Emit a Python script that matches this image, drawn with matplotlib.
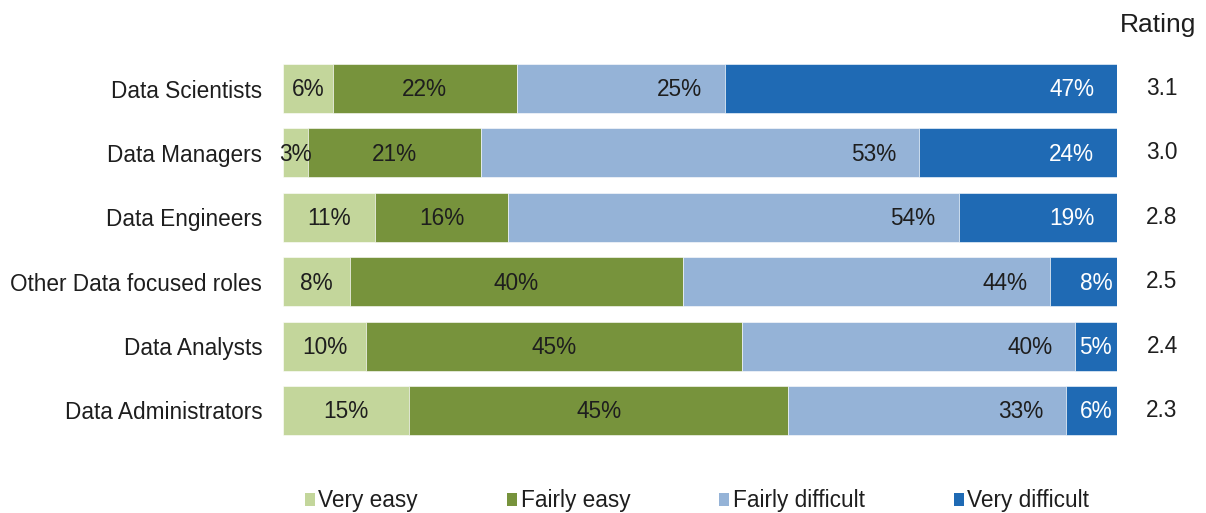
"""
Stacked horizontal bar chart: how easy/difficult it is to hire each data role,
with the average rating shown on the right.
"""
import matplotlib
matplotlib.use('Agg')
import matplotlib.pyplot as plt
import matplotlib.transforms as mtransforms
import numpy as np

roles = ['Data Scientists', 'Data Managers', 'Data Engineers',
         'Other Data focused roles', 'Data Analysts', 'Data Administrators']
very_easy = [6, 3, 11, 8, 10, 15]
fairly_easy = [22, 21, 16, 40, 45, 45]
fairly_difficult = [25, 53, 54, 44, 40, 33]
very_difficult = [47, 24, 19, 8, 5, 6]
ratings = [3.1, 3.0, 2.8, 2.5, 2.4, 2.3]
series_names = ['Very easy', 'Fairly easy', 'Fairly difficult', 'Very difficult']
colors = ['#c3d69b', '#77933c', '#95b3d7', '#1f6ab4']

TEXT_COLOR = '#1e1e1e'
FONT_SIZE = 16.3

plt.rcParams['font.family'] = ['Liberation Sans', 'DejaVu Sans']

fig = plt.figure(figsize=(12.06, 5.13), dpi=100)
ax = fig.add_axes([283 / 1206, 1 - 442.7 / 513, 834 / 1206, 386.4 / 513])

data = np.array([very_easy, fairly_easy, fairly_difficult, very_difficult], dtype=float)
# each bar fills the full width (rounded values don't always add to 100)
shares = data / data.sum(axis=0) * 100
y = np.arange(len(roles))
left = np.zeros(len(roles))

for i, name in enumerate(series_names):
    bars = ax.barh(y, shares[i], left=left, height=0.76, color=colors[i],
                   edgecolor='white', linewidth=0.4, label=name)
    for j, bar in enumerate(bars):
        txt = f'{int(data[i, j])}%'
        cy = bar.get_y() + bar.get_height() / 2
        if i < 2:
            # easy labels centred in their segment
            ax.annotate(txt, (bar.get_x() + bar.get_width() / 2, cy),
                        xytext=(0, -1), textcoords='offset points',
                        ha='center', va='center', fontsize=FONT_SIZE, color=TEXT_COLOR)
        else:
            # difficult labels sit at the inside end
            pad = -16.5 if data[i, j] >= 10 else -3.5
            ax.annotate(txt, (bar.get_x() + bar.get_width(), cy),
                        xytext=(pad, -1), textcoords='offset points',
                        ha='right', va='center', fontsize=FONT_SIZE,
                        color='white' if i == 3 else TEXT_COLOR)
    left += shares[i]

ax.set_xlim(0, 100)
ax.set_ylim(len(roles) - 0.5, -0.5)
ax.set_yticks(y)
ax.set_yticklabels(roles, fontsize=FONT_SIZE, color=TEXT_COLOR)
ax.tick_params(axis='y', length=0, pad=15)
ax.set_xticks([])
for side in ['top', 'right', 'bottom', 'left']:
    ax.spines[side].set_visible(False)

# rating column
trans = mtransforms.blended_transform_factory(fig.transFigure, ax.transData)
for j, r in enumerate(ratings):
    ax.text(1162 / 1206, y[j], f'{r:.1f}', transform=trans, ha='center', va='center',
            fontsize=FONT_SIZE, color=TEXT_COLOR)
fig.text(1158 / 1206, 1 - 32 / 513, 'Rating', ha='center', va='baseline',
         fontsize=19, color=TEXT_COLOR)

leg = fig.legend(loc='center', bbox_to_anchor=(697 / 1206, 1 - 501 / 513), ncol=4,
                 frameon=False, fontsize=FONT_SIZE, handlelength=0.45, handleheight=0.45,
                 handletextpad=0.15, columnspacing=3.93, borderpad=0)
for t in leg.get_texts():
    t.set_color(TEXT_COLOR)
for h in leg.legend_handles:
    h.set_edgecolor('none')

fig.savefig('out.png', dpi=100)
